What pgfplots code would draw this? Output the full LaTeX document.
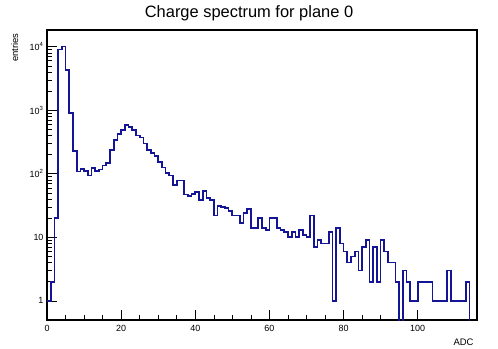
\documentclass[border=0pt]{standalone}
\usepackage{fontspec}
\setmainfont{Liberation Sans}
\usepackage{pgfplots}
\pgfplotsset{compat=1.18}
\definecolor{histblue}{RGB}{20,20,150}
% zero bins are stored as 0.1 (below ymin) so the log axis keeps them
\pgfplotstableread{
x y
0 1
1 2
2 20
3 9000
4 10100
5 4250
6 905
7 228
8 109
9 119
10 111
11 94
12 124
13 111
14 117
15 135
16 149
17 236
18 340
19 422
20 493
21 591
22 538
23 488
24 402
25 374
26 301
27 236
28 214
29 190
30 154
31 126
32 104
33 94
34 66
35 78
36 78
37 47
38 45
39 48
40 52
41 39
42 54
43 42
44 39
45 22
46 31
47 30
48 29
49 26
50 22
51 22
52 17
53 24
54 28
55 14
56 14
57 20
58 14
59 13
60 20
61 20
62 14
63 13
64 12
65 10
66 12
67 10
68 13
69 11
70 10
71 22
72 7
73 9
74 8
75 8
76 12
77 1
78 14
79 8
80 6
81 4
82 5
83 6
84 3
85 7
86 9
87 2
88 7
89 2
90 9
91 6
92 4
93 4
94 2
95 0.1
96 3
97 2
98 1
99 1
100 2
101 2
102 2
103 2
104 1
105 1
106 1
107 1
108 3
109 1
110 1
111 1
112 1
113 2
114 0.1
115 0.1
116 0.1
}\charge
\begin{document}
\begin{tikzpicture}
\begin{axis}[
    name=ax,
    scale only axis, width=430bp, height=290bp,
    ymode=log,
    xmin=0, xmax=116, ymin=0.5, ymax=18300,
    axis line style={line width=1.2bp},
    tick align=inside, tick pos=left,
    xtick={0,20,...,100}, minor x tick num=3,
    ytick={1,10,100,1000,10000},
    yticklabels={1,10,10\textsuperscript{2},10\textsuperscript{3},10\textsuperscript{4}},
    major tick length=10bp, minor tick length=5bp,
    tick style={black, line width=0.6bp},
    ticklabel style={font=\fontsize{9}{10}\selectfont},
    xticklabel style={yshift=-1.5bp},
    /pgf/number format/assume math mode=true,
    title={Charge spectrum for plane 0},
    every axis title shift=0pt,
    title style={font=\fontsize{16.5}{18}\selectfont, at={(axis description cs:0.4698,1.0438)}, anchor=base},
    xlabel={ADC},
    xlabel style={font=\fontsize{9.5}{10}\selectfont, at={(axis description cs:1,-0.0886)}, anchor=base east},
    ylabel={entries},
    ylabel style={font=\fontsize{9.5}{10}\selectfont, at={(axis description cs:-0.0674,1)}, anchor=base east},
]
\addplot[const plot mark left, histblue, line width=1.7bp] table {\charge};
\end{axis}
\pgfresetboundingbox
\path[use as bounding box] ([xshift=-47bp,yshift=-29bp]ax.south west) rectangle ([xshift=21bp,yshift=30bp]ax.north east);
\end{tikzpicture}
\end{document}
